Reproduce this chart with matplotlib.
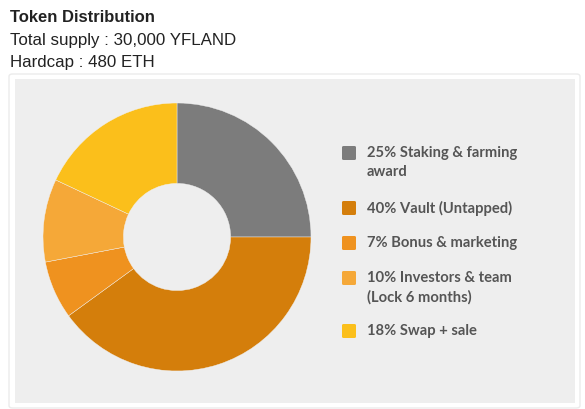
import matplotlib
matplotlib.use("Agg")
from matplotlib import pyplot as plt
from matplotlib.patches import FancyBboxPatch, Rectangle

W, H = 585, 409

title = "Token Distribution"
subtitles = ["Total supply : 30,000 YFLAND", "Hardcap : 480 ETH"]

shares = [25, 40, 7, 10, 18]
names = ["Staking & farming\naward", "Vault (Untapped)", "Bonus & marketing",
         "Investors & team\n(Lock 6 months)", "Swap + sale"]
colors = ["#7c7c7c", "#d47e0b", "#ef921f", "#f5a838", "#fbbf1b"]


def fx(x):
    return x / W


def fy(y):
    return 1 - y / H


fig = plt.figure(figsize=(W / 100, H / 100), dpi=100)
fig.patch.set_facecolor("white")

# header text
fig.text(fx(10), fy(22), title, fontsize=12, fontweight="bold",
         family="Liberation Sans", color="#222222", va="baseline")
for i, s in enumerate(subtitles):
    fig.text(fx(10), fy(45 + 22 * i), s, fontsize=12.2,
             family="Liberation Sans", color="#222222", va="baseline")

# card + grey panel
card = FancyBboxPatch((fx(9), fy(408)), fx(571), 334 / H,
                      boxstyle="round,pad=0,rounding_size=0.006",
                      transform=fig.transFigure, facecolor="white",
                      edgecolor="#ebebeb", linewidth=1, zorder=0)
fig.patches.append(card)
fig.patches.append(Rectangle((fx(15), fy(403)), fx(560), 324 / H,
                             transform=fig.transFigure, facecolor="#eeeeee",
                             edgecolor="none", zorder=0.5))

# donut
cx, cy, r = 177, 237, 134
ax = fig.add_axes([fx(cx - r), fy(cy + r), 2 * r / W, 2 * r / H])
ax.set_zorder(5)
ax.patch.set_visible(False)
ax.pie(shares, colors=colors, startangle=90, counterclock=False, radius=1,
       wedgeprops=dict(width=0.6, edgecolor="#f2f2f2", linewidth=0.3))
ax.set_xlim(-1, 1)
ax.set_ylim(-1, 1)
ax.set_aspect("equal")
ax.axis("off")

# legend
rows = [153, 208, 243, 278, 331]
for share, name, col, y in zip(shares, names, colors, rows):
    fig.patches.append(FancyBboxPatch((fx(342), fy(y + 7)), fx(14), 14 / H,
                                      boxstyle="round,pad=0,rounding_size=0.003",
                                      transform=fig.transFigure,
                                      facecolor=col, edgecolor="none", zorder=2))
    fig.text(fx(367), fy(y - 7), f"{share}% {name}", fontsize=10.6,
             fontweight="bold", family="Lato", color="#555555",
             va="top", linespacing=1.45)

fig.savefig("out.png", dpi=100)
